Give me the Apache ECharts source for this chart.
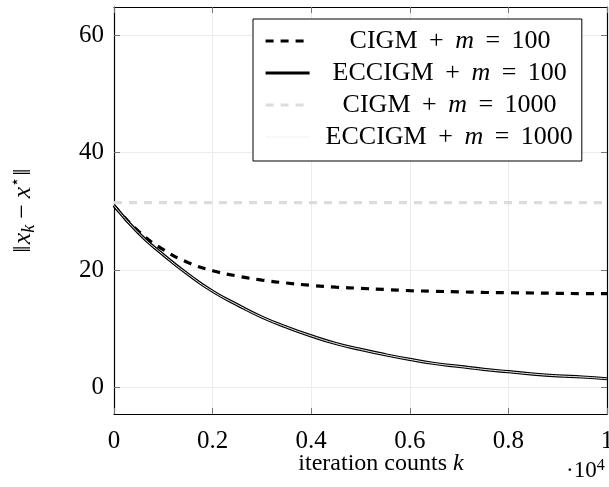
<!DOCTYPE html>
<html>
<head>
<meta charset="utf-8">
<script src="https://cdn.jsdelivr.net/npm/echarts@6/dist/echarts.min.js"></script>
<style>
  html, body { margin: 0; padding: 0; background: #fff; }
  #chart { width: 609px; height: 487px; }
</style>
</head>
<body>
<div id="chart"></div>
<script>
const FONT = "Liberation Serif";

// iteration counts k (x axis, raw values; labels shown in units of 10^4)
const iters = [0, 500, 1000, 1500, 2000, 2500, 3000, 3500, 4000, 4500, 5000,
    5500, 6000, 6500, 7000, 7500, 8000, 8500, 9000, 9500, 10000];

const cigm100 = [31.0, 26.6, 23.5, 21.3, 19.9, 19.0, 18.3, 17.8, 17.4, 17.1, 16.9,
    16.7, 16.5, 16.4, 16.3, 16.2, 16.15, 16.1, 16.05, 16.0, 16.0];
const ecc100 = [31.0, 26.3, 22.6, 19.3, 16.4, 14.1, 12.0, 10.3, 8.8, 7.5, 6.5,
    5.6, 4.8, 4.1, 3.6, 3.1, 2.7, 2.3, 2.0, 1.8, 1.5];
const cigm1000 = [31.5, 31.5, 31.5, 31.5, 31.5, 31.5, 31.5, 31.5, 31.5, 31.5, 31.5,
    31.5, 31.5, 31.5, 31.5, 31.5, 31.5, 31.5, 31.5, 31.5, 31.5];
const ecc1000 = [31.0, 26.3, 22.6, 19.3, 16.4, 14.1, 12.0, 10.3, 8.8, 7.5, 6.5,
    5.6, 4.8, 4.1, 3.6, 3.1, 2.7, 2.3, 2.0, 1.8, 1.5];

const yTicks = [0, 20, 40, 60];

const names = ["CIGM + m = 100", "ECCIGM + m = 100", "CIGM + m = 1000", "ECCIGM + m = 1000"];

function pairs(ys) {
    return ys.map((y, i) => [iters[i], y]);
}

// legend text is centred in a fixed-width column, like the pgfplots legend
const LEG_FS = 26;
const LEG_W = 270;
const SP = 5; // extra math spacing around + and =
const ctx = document.createElement("canvas").getContext("2d");
function textW(s, italic) {
    ctx.font = (italic ? "italic " : "") + LEG_FS + "px " + FONT;
    return ctx.measureText(s).width;
}

const chart = echarts.init(document.getElementById("chart"));

const tickStyle = { inside: true, length: 6, lineStyle: { color: "#777", width: 1 } };
const frame = { show: true, onZero: false, lineStyle: { color: "#000", width: 1.2 } };

const legendRich = {
    t: { fontFamily: FONT, fontSize: LEG_FS, color: "#000" },
    i: { fontFamily: FONT, fontStyle: "italic", fontSize: LEG_FS, color: "#000" },
    g: { width: SP, fontSize: LEG_FS }
};
for (let k = 1; k <= 200; k++) legendRich["p" + k] = { width: k, fontSize: LEG_FS };

chart.setOption({
    animation: false,
    backgroundColor: "#fff",
    grid: { left: 114, right: 2, top: 7, bottom: 73, outerBoundsMode: "none", containLabel: false },

    legend: {
        orient: "vertical",
        left: 253,
        top: 19,
        padding: [8, 9, 10, 11],
        itemGap: 4,
        itemWidth: 44,
        itemHeight: 14,
        backgroundColor: "#fff",
        borderColor: "#000",
        borderWidth: 1,
        borderRadius: 0,
        itemStyle: { opacity: 0 },
        data: [
            { name: names[0], lineStyle: { width: 3.2 } },
            { name: names[1], lineStyle: { width: 3.2 } },
            { name: names[2], lineStyle: { width: 3.2 } },
            { name: names[3], lineStyle: { width: 1 } }
        ],
        formatter: function (n) {
            const parts = n.split(" m ");
            const a = parts[0].replace(" +", "");
            const b = parts[1].replace("= ", "");
            const w = textW(a + " ") + textW("+") + textW(" ") + textW("m", true) +
                textW(" ") + textW("=") + textW(" " + b) + 4 * SP;
            const pad = Math.max(1, Math.round((LEG_W - w) / 2));
            return "{p" + pad + "|}{t|" + a + " }{g|}{t|+}{g|}{t| }{i|m}{t| }{g|}{t|=}{g|}{t| " + b + "}";
        },
        textStyle: {
            fontFamily: FONT,
            fontSize: LEG_FS,
            lineHeight: 28,
            color: "#000",
            rich: legendRich
        }
    },

    xAxis: [
        {
            type: "value",
            min: 0,
            max: 10000,
            interval: 2000,
            axisLine: frame,
            axisTick: tickStyle,
            axisLabel: {
                margin: 15,
                fontFamily: FONT,
                fontSize: 25,
                color: "#000",
                formatter: v => String(v / 10000)
            },
            splitLine: { show: true, lineStyle: { color: "#ececec", width: 1 } }
        },
        {
            type: "value",
            position: "top",
            min: 0,
            max: 10000,
            interval: 2000,
            axisLine: frame,
            axisTick: tickStyle,
            axisLabel: { show: false },
            splitLine: { show: false }
        }
    ],

    yAxis: [
        {
            type: "value",
            min: -4.5,
            max: 64.8,
            axisLine: frame,
            axisTick: Object.assign({ customValues: yTicks }, tickStyle),
            axisLabel: {
                customValues: yTicks,
                margin: 10,
                fontFamily: FONT,
                fontSize: 25,
                color: "#000"
            },
            splitLine: { show: true, lineStyle: { color: "#ececec", width: 1 } },
            name: "‖{h|}{i|x}{s|k}{g|}{t|−}{g|}{i|x}{p|⋆}{h|}‖",
            nameLocation: "middle",
            nameRotate: 90,
            nameGap: 76,
            nameTextStyle: {
                fontFamily: FONT,
                fontSize: 26,
                color: "#000",
                rich: {
                    t: { fontFamily: FONT, fontSize: 26 },
                    g: { width: 6, fontSize: 26 },
                    h: { width: 1, fontSize: 26 },
                    i: { fontFamily: FONT, fontStyle: "italic", fontSize: 26 },
                    s: { fontFamily: FONT, fontStyle: "italic", fontSize: 18, verticalAlign: "bottom", padding: [12, 0, 0, 0] },
                    p: { fontFamily: FONT, fontSize: 16, verticalAlign: "top", padding: [0, 0, 12, 0] }
                }
            }
        },
        {
            type: "value",
            position: "right",
            min: -4.5,
            max: 64.8,
            axisLine: frame,
            axisTick: Object.assign({ customValues: yTicks }, tickStyle),
            axisLabel: { show: false },
            splitLine: { show: false }
        }
    ],

    graphic: [
        {
            type: "text",
            x: 381,
            y: 464,
            style: {
                text: "iteration counts {i|k}",
                fontFamily: FONT,
                fontSize: 24,
                fill: "#000",
                align: "center",
                verticalAlign: "middle",
                rich: { i: { fontFamily: FONT, fontStyle: "italic", fontSize: 24 } }
            }
        },
        {
            type: "text",
            x: 566,
            y: 471,
            style: {
                text: "·10{s|4}",
                fontFamily: FONT,
                fontSize: 23,
                fill: "#000",
                verticalAlign: "middle",
                rich: { s: { fontFamily: FONT, fontSize: 16, verticalAlign: "top", padding: [0, 0, 11, 0] } }
            }
        }
    ],

    series: [
        {
            name: names[0],
            type: "line",
            data: pairs(cigm100),
            smooth: true,
            symbol: "none",
            lineStyle: { color: "#000", width: 3.2, type: [8, 7] },
            itemStyle: { color: "#000" }
        },
        {
            name: names[1],
            type: "line",
            data: pairs(ecc100),
            smooth: true,
            symbol: "none",
            lineStyle: { color: "#000", width: 3.2 },
            itemStyle: { color: "#000" }
        },
        {
            name: names[2],
            type: "line",
            data: pairs(cigm1000),
            symbol: "none",
            lineStyle: { color: "#dcdcdc", width: 3.2, type: [8, 7] },
            itemStyle: { color: "#dcdcdc" }
        },
        {
            name: names[3],
            type: "line",
            data: pairs(ecc1000),
            smooth: true,
            symbol: "none",
            lineStyle: { color: "#f2f2f2", width: 1 },
            itemStyle: { color: "#e6e6e6" }
        }
    ]
});
</script>
</body>
</html>
